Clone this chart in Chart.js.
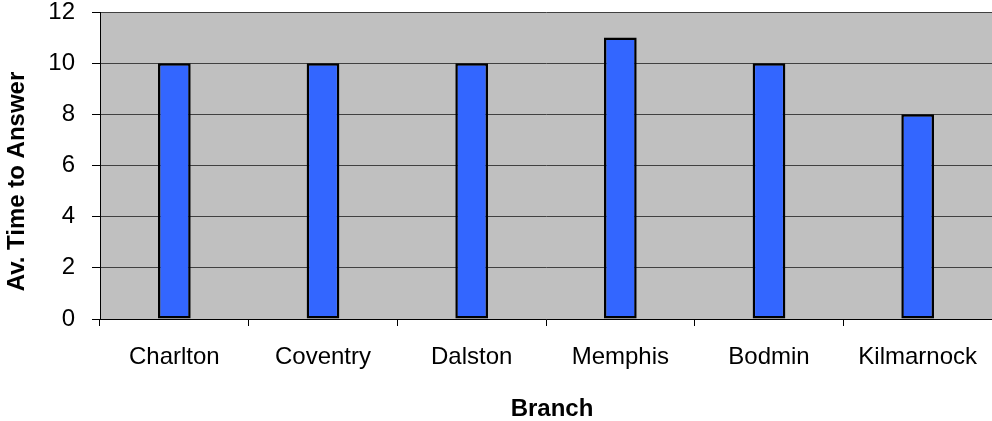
<!DOCTYPE html>
<html>
<head>
<meta charset="utf-8">
<script src="https://cdn.jsdelivr.net/npm/chart.js@4"></script>
<style>
  html, body { margin: 0; padding: 0; background: #ffffff; }
  #wrap { width: 992px; height: 421px; }
</style>
</head>
<body>
<div id="wrap"><canvas id="grafico"></canvas></div>
<script>
const branches = ['Charlton', 'Coventry', 'Dalston', 'Memphis', 'Bodmin', 'Kilmarnock'];
const avTime = [10, 10, 10, 11, 10, 8];
const yTicks = [0, 2, 4, 6, 8, 10, 12];
const xTitle = 'Branch';
const yTitle = 'Av. Time to Answer';

const fuente = 'Liberation Sans, Arial, sans-serif';

// fondo gris del área de trazado
const plotBg = {
    id: 'plotBg',
    beforeDraw(chart) {
        const a = chart.chartArea;
        const ctx = chart.ctx;
        ctx.save();
        ctx.fillStyle = '#c0c0c0';
        ctx.fillRect(a.left, a.top, a.right - a.left, a.bottom - a.top);
        ctx.restore();
    }
};

// títulos de los ejes (desplazados como en el original)
const axisTitles = {
    id: 'axisTitles',
    afterDraw(chart) {
        const a = chart.chartArea;
        const ctx = chart.ctx;
        ctx.save();
        ctx.fillStyle = '#000000';
        ctx.font = 'bold 24px ' + fuente;
        ctx.textAlign = 'center';
        ctx.textBaseline = 'middle';
        ctx.fillText(xTitle, (a.left + a.right) / 2 + 6, 409);
        ctx.translate(17, (a.top + a.bottom) / 2 + 16);
        ctx.rotate(-Math.PI / 2);
        ctx.fillText(yTitle, 0, 0);
        ctx.restore();
    }
};

new Chart(document.getElementById('grafico'), {
    type: 'bar',
    data: {
        labels: branches,
        datasets: [{
            data: avTime,
            backgroundColor: '#3366ff',
            borderColor: '#000000',
            borderWidth: 2.5,
            borderSkipped: false,
            categoryPercentage: 1,
            barPercentage: 0.22
        }]
    },
    options: {
        responsive: true,
        maintainAspectRatio: false,
        animation: false,
        layout: { padding: { top: 12, right: 0, left: 0, bottom: 0 } },
        plugins: {
            legend: { display: false },
            tooltip: { enabled: false }
        },
        scales: {
            x: {
                grid: {
                    offset: true,
                    drawOnChartArea: false,
                    drawTicks: true,
                    tickLength: 7,
                    color: '#000000'
                },
                border: { color: '#000000', width: 1 },
                ticks: { color: '#000000', font: { family: fuente, size: 24 }, padding: 17, maxRotation: 0 },
                afterFit(scale) {
                    scale.height = 102;
                    scale.paddingLeft = 0;
                    scale.paddingRight = 0;
                }
            },
            y: {
                min: 0,
                max: 12,
                afterBuildTicks(scale) { scale.ticks = yTicks.map(v => ({ value: v })); },
                grid: {
                    color: '#404040',
                    drawTicks: true,
                    tickLength: 8,
                    tickColor: '#000000'
                },
                border: { color: '#000000', width: 1 },
                ticks: { color: '#000000', font: { family: fuente, size: 24 }, padding: 17 },
                afterFit(scale) {
                    scale.width = 100;
                    scale.paddingTop = 0;
                    scale.paddingBottom = 0;
                }
            }
        }
    },
    plugins: [plotBg, axisTitles]
});
</script>
</body>
</html>
